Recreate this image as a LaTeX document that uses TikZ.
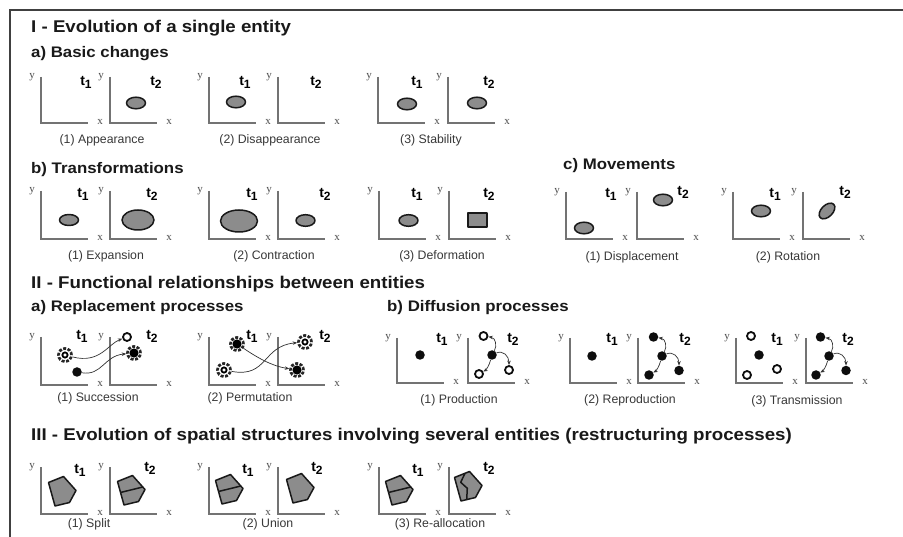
\documentclass[tikz,border=0pt]{standalone}
\usepackage{fontspec}
\setmainfont{Liberation Sans}
\newfontfamily\headfont[FakeStretch=1.1]{Liberation Sans}
\newfontfamily\axfont{Liberation Serif}
\usetikzlibrary{arrows.meta}
\newcommand\tsub[1]{t\raisebox{-3pt}{\fontsize{12}{12}\selectfont #1}}
\tikzset{
 frameline/.style={draw=black!75, line width=1.5pt},
 axisline/.style={draw=black!55, line width=1.4pt},
 h1/.style={anchor=base west, inner sep=0pt, text=black!90, font=\headfont\bfseries\fontsize{17}{20}\selectfont},
 h2/.style={anchor=base west, inner sep=0pt, text=black!90, font=\headfont\bfseries\fontsize{15.3}{18}\selectfont},
 capt/.style={inner sep=0pt, text=black!78, font=\fontsize{12.3}{14}\selectfont},
 axl/.style={inner sep=0pt, text=black!70, font=\axfont\fontsize{11}{12}\selectfont},
 tl/.style={anchor=base, inner sep=0pt, font=\bfseries\fontsize{14}{16}\selectfont},
 blob/.style={draw=black!90, fill=black!45, line width=1.5pt, line join=round},
 dotn/.style={circle, fill=black!95, inner sep=0pt, minimum size=9.5pt},
 ringn/.style={circle, draw=black!95, fill=white, line width=1.8pt, inner sep=0pt, minimum size=8pt},
 gearbase/.style={circle, draw=black!85, line width=2.7pt, dash pattern=on 3pt off 1.5pt, inner sep=0pt, minimum size=13pt},
 gearfull/.style={gearbase, path picture={\fill[black] (path picture bounding box.center) circle (4.6pt);}},
 gearopen/.style={gearbase, path picture={\draw[solid, black, line width=1.8pt, fill=white] (path picture bounding box.center) circle (2.6pt);}},
 arr/.style={draw=black!80, line width=0.7pt, -{Stealth[length=4.5pt, width=3.5pt]}},
 pics/axes/.style={code={
   \draw[axisline] (0,-#1) -- (0,0) -- (47,0);
   \node[axl] (-y) at (-9,-#1) {y};
   \node[axl] (-x) at (59,-1) {x};
 }},
 pics/pent/.style={code={
   \draw[blob] (-13.5,-8.5) -- (1.5,-14.5) -- (14,-0.5) -- (7.5,11.5) -- (-7,15) -- cycle;
 }},
 pics/pentsplit/.style={code={
   \draw[blob] (-13.5,-8.5) -- (1.5,-14.5) -- (14,-0.5) -- (7.5,11.5) -- (-7,15) -- cycle;
   \draw[blob] (-10.5,2.5) -- (11.8,-3);
 }},
 pics/pentre/.style={code={
   \draw[blob] (-13.5,-8.5) -- (1.5,-14.5) -- (14,-0.5) -- (7.5,11.5) -- (-7,15) -- cycle;
   \draw[blob] (-3,-12.7) -- (-7.3,-3.7) -- (-0.7,2.3) -- (-1.3,13.6);
 }},
}
\begin{document}
\begin{tikzpicture}[x=1pt,y=-1pt]
\useasboundingbox (0,0) rectangle (903,537);
\fill[white] (0,0) rectangle (903,537);
\draw[frameline] (903,10) -- (10,10) -- (10,537);

% ---------- headings
\node[h1] (hI) at (31,33) {I - Evolution of a single entity};
\node[h2] (hIa) at (31,58) {a) Basic changes};
\node[h2] (hIb) at (31,174) {b) Transformations};
\node[h2] (hIc) at (563,170) {c) Movements};
\node[h1] (hII) at (31,289) {II - Functional relationships between entities};
\node[h2] (hIIa) at (31,312) {a) Replacement processes};
\node[h2] (hIIb) at (387,312) {b) Diffusion processes};
\node[h1] (hIII) at (31,441) {III - Evolution of spatial structures involving several entities (restructuring processes)};

% ---------- I a) basic changes
\pic (a1) at (41,123) {axes=46};
\pic (a2) at (110,123) {axes=46};
\pic (a3) at (209,123) {axes=46};
\pic (a4) at (278,123) {axes=46};
\pic (a5) at (378,123) {axes=46};
\pic (a6) at (448,123) {axes=46};
\node[tl] (ta1) at (86,85.5) {\tsub{1}};
\node[tl] (ta2) at (156,85.5) {\tsub{2}};
\node[tl] (ta3) at (245,85.5) {\tsub{1}};
\node[tl] (ta4) at (316,85.5) {\tsub{2}};
\node[tl] (ta5) at (417,85.5) {\tsub{1}};
\node[tl] (ta6) at (489,85.5) {\tsub{2}};
\draw[blob] (136,103) ellipse [x radius=9.5pt, y radius=5.8pt];
\draw[blob] (236,102) ellipse [x radius=9.5pt, y radius=5.8pt];
\draw[blob] (407,104) ellipse [x radius=9.5pt, y radius=5.8pt];
\draw[blob] (477,103) ellipse [x radius=9.5pt, y radius=5.8pt];
\node[capt] (ca1) at (102,140) {(1) Appearance};
\node[capt] (ca2) at (270,140) {(2) Disappearance};
\node[capt] (ca3) at (431,140) {(3) Stability};

% ---------- I b) transformations
\pic (b1) at (41,239) {axes=48};
\pic (b2) at (110,239) {axes=48};
\pic (b3) at (209,239) {axes=48};
\pic (b4) at (278,239) {axes=48};
\pic (b5) at (379,239) {axes=48};
\pic (b6) at (449,239) {axes=48};
\node[tl] (tb1) at (83,197.5) {\tsub{1}};
\node[tl] (tb2) at (152,197.5) {\tsub{2}};
\node[tl] (tb3) at (252,197.5) {\tsub{1}};
\node[tl] (tb4) at (325,197.5) {\tsub{2}};
\node[tl] (tb5) at (417,197.5) {\tsub{1}};
\node[tl] (tb6) at (489,197.5) {\tsub{2}};
\draw[blob] (69,220) ellipse [x radius=9.5pt, y radius=5.5pt];
\draw[blob] (138,220) ellipse [x radius=16pt, y radius=10pt];
\draw[blob] (239,221) ellipse [x radius=18.5pt, y radius=11pt];
\draw[blob] (305.5,220.5) ellipse [x radius=9.5pt, y radius=5.8pt];
\draw[blob] (408.5,220.5) ellipse [x radius=9.5pt, y radius=5.8pt];
\draw[blob] (468,213) rectangle (487,227);
\node[capt] (cb1) at (106,256) {(1) Expansion};
\node[capt] (cb2) at (274,256) {(2) Contraction};
\node[capt] (cb3) at (442,256) {(3) Deformation};

% ---------- I c) movements
\pic (c1) at (566,239) {axes=47};
\pic (c2) at (637,239) {axes=47};
\pic (c3) at (733,239) {axes=47};
\pic (c4) at (803,239) {axes=47};
\node[tl] (tc1) at (611,197.5) {\tsub{1}};
\node[tl] (tc2) at (683,195.5) {\tsub{2}};
\node[tl] (tc3) at (775,197.5) {\tsub{1}};
\node[tl] (tc4) at (845,195.5) {\tsub{2}};
\draw[blob] (584,228) ellipse [x radius=9.5pt, y radius=5.8pt];
\draw[blob] (663,200) ellipse [x radius=9.5pt, y radius=5.8pt];
\draw[blob] (761,211) ellipse [x radius=9.5pt, y radius=5.8pt];
\draw[blob, rotate around={45:(827,211)}] (827,211) ellipse [x radius=9.5pt, y radius=5.8pt];
\node[capt] (cc1) at (632,257) {(1) Displacement};
\node[capt] (cc2) at (788,257) {(2) Rotation};

% ---------- II a) replacement
\pic (d1) at (41,385) {axes=48};
\pic (d2) at (110,385) {axes=48};
\pic (d3) at (209,385) {axes=48};
\pic (d4) at (278,385) {axes=48};
\node[tl] (td1) at (82,339.5) {\tsub{1}};
\node[tl] (td2) at (152,339.5) {\tsub{2}};
\node[tl] (td3) at (252,339.5) {\tsub{1}};
\node[tl] (td4) at (325,339.5) {\tsub{2}};
\node[gearopen] (s1) at (65,355) {};
\node[dotn] (s2) at (77,372) {};
\node[ringn] (s3) at (127,337) {};
\node[gearfull] (s4) at (134,353) {};
\draw[arr] (s1) .. controls (100,364) and (108,344) .. (s3);
\draw[arr] (s2) .. controls (102,376) and (104,356) .. (s4);
\node[gearfull] (p1) at (237,344) {};
\node[gearopen] (p2) at (224,370) {};
\node[gearopen] (p3) at (305,342) {};
\node[gearfull] (p4) at (297,370) {};
\draw[arr] (p1) .. controls (258,358) and (272,366) .. (p4);
\draw[arr] (p2) .. controls (268,378) and (262,346) .. (p3);
\node[capt] (cd1) at (98,398) {(1) Succession};
\node[capt] (cd2) at (250,398) {(2) Permutation};

% ---------- II b) diffusion
\pic (e1) at (397,383) {axes=45};
\pic (e2) at (468,383) {axes=45};
\pic (e3) at (570,383) {axes=45};
\pic (e4) at (638,383) {axes=45};
\pic (e5) at (736,383) {axes=45};
\pic (e6) at (806,383) {axes=45};
\node[tl] (te1) at (442,342.5) {\tsub{1}};
\node[tl] (te2) at (513,342.5) {\tsub{2}};
\node[tl] (te3) at (612,342.5) {\tsub{1}};
\node[tl] (te4) at (685,342.5) {\tsub{2}};
\node[tl] (te5) at (777,342.5) {\tsub{1}};
\node[tl] (te6) at (848,342.5) {\tsub{2}};
% production
\node[dotn] (g1) at (420,355) {};
\node[dotn] (g2) at (492,355) {};
\node[ringn] (g3) at (483.5,336) {};
\node[ringn] (g4) at (479,374) {};
\node[ringn] (g5) at (509,370) {};
\draw[arr] (g2) .. controls (497,346) and (496,338) .. (g3);
\draw[arr] (g2) .. controls (489,366) and (486,370) .. (g4);
\draw[arr] (g2) .. controls (503,350) and (509,356) .. (g5);
% reproduction
\node[dotn] (r1) at (592,356) {};
\node[dotn] (r2) at (662,356) {};
\node[dotn] (r3) at (653.5,337) {};
\node[dotn] (r4) at (649,375) {};
\node[dotn] (r5) at (679,370.5) {};
\draw[arr] (r2) .. controls (667,347) and (666,339) .. (r3);
\draw[arr] (r2) .. controls (659,367) and (656,371) .. (r4);
\draw[arr] (r2) .. controls (673,351) and (679,357) .. (r5);
% transmission
\node[ringn] (m1) at (751,336) {};
\node[ringn] (m2) at (747,375) {};
\node[ringn] (m3) at (777,369) {};
\node[dotn] (m4) at (759,355) {};
\node[dotn] (n2) at (829,356) {};
\node[dotn] (n3) at (820.5,337) {};
\node[dotn] (n4) at (816,375) {};
\node[dotn] (n5) at (846,370.5) {};
\draw[arr] (n2) .. controls (834,347) and (833,339) .. (n3);
\draw[arr] (n2) .. controls (826,367) and (823,371) .. (n4);
\draw[arr] (n2) .. controls (840,351) and (846,357) .. (n5);
\node[capt] (ce1) at (459,400) {(1) Production};
\node[capt] (ce2) at (630,400) {(2) Reproduction};
\node[capt] (ce3) at (797,401) {(3) Transmission};

% ---------- III
\pic (f1) at (41,514) {axes=47};
\pic (f2) at (110,514) {axes=47};
\pic (f3) at (209,514) {axes=47};
\pic (f4) at (278,514) {axes=47};
\pic (f5) at (379,514) {axes=47};
\pic (f6) at (449,514) {axes=47};
\node[tl] (tf1) at (80,473) {\tsub{1}};
\node[tl] (tf2) at (150,471.5) {\tsub{2}};
\node[tl] (tf3) at (248,473) {\tsub{1}};
\node[tl] (tf4) at (317,471.5) {\tsub{2}};
\node[tl] (tf5) at (418,473) {\tsub{1}};
\node[tl] (tf6) at (489,471.5) {\tsub{2}};
\pic (q1) at (62,491) {pent};
\pic (q2) at (131,490) {pentsplit};
\pic (q3) at (229,489) {pentsplit};
\pic (q4) at (300,488) {pent};
\pic (q5) at (399,490) {pentsplit};
\pic (q6) at (468,486) {pentre};
\node[capt] (cf1) at (89,524) {(1) Split};
\node[capt] (cf2) at (268,524) {(2) Union};
\node[capt] (cf3) at (440,524) {(3) Re-allocation};
\end{tikzpicture}
\end{document}
